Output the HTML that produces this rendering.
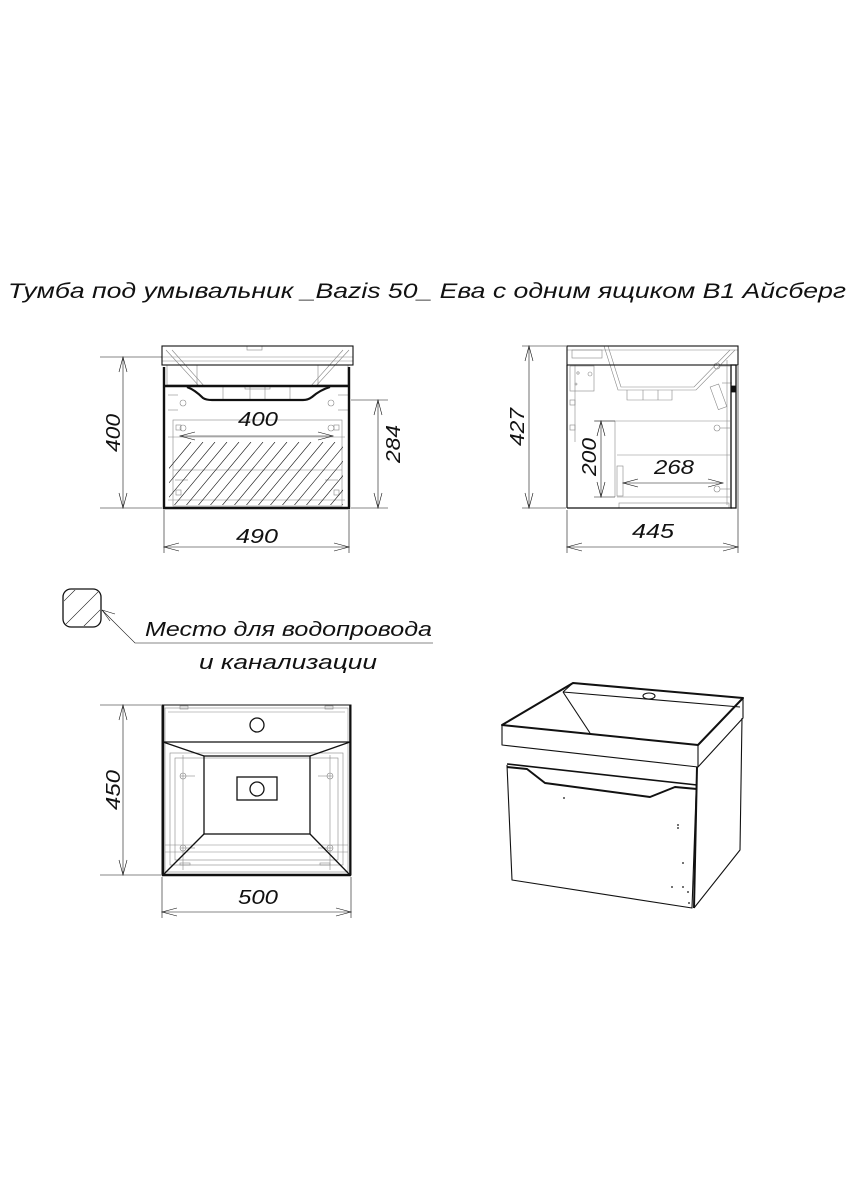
<!DOCTYPE html>
<html><head><meta charset="utf-8"><style>
html,body{margin:0;padding:0;background:#fff;}
svg{display:block;}
text{font-family:"Liberation Sans","DejaVu Sans",sans-serif;font-style:italic;fill:#111;}
</style></head><body>
<svg width="849" height="1200" viewBox="0 0 849 1200" xmlns="http://www.w3.org/2000/svg">
<defs>
<clipPath id="hc"><rect x="169" y="442" width="174" height="63"/></clipPath>
<clipPath id="sc"><rect x="64" y="590" width="36" height="36" rx="7"/></clipPath>
</defs>
<!-- Title -->
<text x="8" y="298" font-size="21" textLength="838" lengthAdjust="spacingAndGlyphs">Тумба под умывальник _Bazis 50_ Ева с одним ящиком В1 Айсберг</text>

<g fill="none" stroke="#111" stroke-width="0.8">
<!-- ============ FRONT VIEW ============ -->
<g stroke="#888" stroke-width="0.6">
<line x1="162" y1="357" x2="353" y2="357"/>
<line x1="162" y1="361" x2="353" y2="361"/>
<rect x="247" y="346" width="15" height="4"/>
<line x1="166" y1="350" x2="200" y2="387"/><line x1="172" y1="350" x2="205" y2="387"/>
<line x1="349" y1="350" x2="315" y2="387"/><line x1="343" y1="350" x2="310" y2="387"/>
<rect x="167" y="365" width="30" height="20"/><rect x="318" y="365" width="30" height="20"/>
<line x1="223" y1="387" x2="223" y2="400"/><line x1="250" y1="387" x2="250" y2="400"/><line x1="265" y1="387" x2="265" y2="400"/><line x1="290" y1="387" x2="290" y2="400"/>
<rect x="245" y="386" width="25" height="3"/>
<rect x="173" y="420" width="169" height="86"/>
<line x1="168" y1="437" x2="345" y2="437"/>
<line x1="173" y1="470" x2="342" y2="470"/>
<line x1="168" y1="500" x2="345" y2="500"/>
<circle cx="183" cy="403" r="3"/><circle cx="331" cy="403" r="3"/>
<circle cx="183" cy="428" r="3"/><circle cx="331" cy="428" r="3"/>
<line x1="168" y1="395" x2="178" y2="395"/><line x1="168" y1="410" x2="178" y2="410"/>
<line x1="338" y1="395" x2="348" y2="395"/><line x1="338" y1="410" x2="348" y2="410"/>
<line x1="175" y1="480" x2="188" y2="480"/><line x1="325" y1="480" x2="338" y2="480"/>
<rect x="176" y="490" width="5" height="5"/><rect x="334" y="490" width="5" height="5"/>
<rect x="176" y="425" width="5" height="5"/><rect x="334" y="425" width="5" height="5"/>
</g>
<rect x="162" y="346" width="191" height="19" stroke-width="1.1"/>
<g clip-path="url(#hc)" stroke-width="0.6">
<path d="M150 520 L215 442 M162 520 L227 442 M174 520 L239 442 M186 520 L251 442 M198 520 L263 442 M210 520 L275 442 M222 520 L287 442 M234 520 L299 442 M246 520 L311 442 M258 520 L323 442 M270 520 L335 442 M282 520 L347 442 M294 520 L359 442 M306 520 L371 442 M318 520 L383 442 M330 520 L395 442 M138 520 L203 442 M126 520 L191 442"/>
</g>
<g stroke-width="2.4">
<line x1="164" y1="367" x2="164" y2="509"/>
<line x1="349" y1="367" x2="349" y2="509"/>
<line x1="163" y1="508" x2="350" y2="508"/>
<line x1="163" y1="386" x2="350" y2="386"/>
<path d="M187 387 Q195 390 203 398 Q206 400 212 400 L303 400 Q308 400 312 397 Q320 390 330 387" stroke-width="2.2"/>
</g>
<!-- front dims -->
<g stroke-width="0.6">
<line x1="100" y1="357" x2="162" y2="357"/><line x1="100" y1="508" x2="162" y2="508"/>
<line x1="123" y1="357" x2="123" y2="508"/>
<path d="M119 372 L123 357 L127 372 M119 493 L123 508 L127 493"/>
<line x1="351" y1="400" x2="388" y2="400"/><line x1="351" y1="508" x2="388" y2="508"/>
<line x1="378" y1="400" x2="378" y2="508"/>
<path d="M374 415 L378 400 L382 415 M374 493 L378 508 L382 493"/>
<line x1="164" y1="510" x2="164" y2="553"/><line x1="349" y1="510" x2="349" y2="553"/>
<line x1="164" y1="547" x2="349" y2="547"/>
<path d="M179 543 L164 547 L179 551 M334 543 L349 547 L334 551"/>
<line x1="180" y1="436" x2="333" y2="436"/>
<path d="M195 432 L180 436 L195 440 M318 432 L333 436 L318 440"/>
</g>

<!-- ============ SIDE VIEW ============ -->
<g stroke="#888" stroke-width="0.6">
<line x1="567" y1="350" x2="738" y2="350"/>
<rect x="572" y="350" width="30" height="8"/>
<path d="M604 346 L618 390 L696 390 L735 350"/>
<path d="M608 346 L621 387 L694 387 L730 350"/>
<path d="M627 390 L627 400 L672 400 L672 390 M643 390 L643 400 M658 390 L658 400"/>
<rect x="570" y="366" width="24" height="25"/>
<circle cx="578" cy="373" r="1.2"/><circle cx="590" cy="374" r="2"/><circle cx="576" cy="384" r="1"/>
<rect x="570" y="400" width="5" height="5"/><rect x="570" y="425" width="5" height="5"/>
<line x1="575" y1="365" x2="575" y2="442"/>
<line x1="595" y1="421" x2="730" y2="421"/>
<line x1="615" y1="421" x2="615" y2="497"/>
<line x1="617" y1="455" x2="730" y2="455"/>
<line x1="617" y1="497" x2="730" y2="497"/>
<rect x="617" y="466" width="6" height="30"/>
<rect x="619" y="503" width="110" height="5"/>
<rect x="714" y="385" width="9" height="24" transform="rotate(-20 718 397)"/>
<circle cx="717" cy="366" r="3"/><circle cx="717" cy="428" r="3"/><circle cx="717" cy="489" r="3"/>
<line x1="720" y1="366" x2="730" y2="366"/><line x1="720" y1="428" x2="730" y2="428"/><line x1="720" y1="489" x2="730" y2="489"/>
<line x1="727" y1="360" x2="727" y2="505"/>
<line x1="722" y1="383" x2="732" y2="383"/>
</g>
<rect x="567" y="346" width="171" height="19" stroke-width="1.1"/>
<line x1="567" y1="365" x2="567" y2="508" stroke-width="1.2"/>
<line x1="567" y1="508" x2="732" y2="508" stroke-width="1.2"/>
<rect x="731" y="365" width="5" height="143" stroke-width="1.3"/>
<rect x="731" y="386" width="5" height="6" fill="#111"/>
<g stroke-width="0.6">
<line x1="522" y1="346" x2="566" y2="346"/><line x1="522" y1="508" x2="566" y2="508"/>
<line x1="529" y1="346" x2="529" y2="508"/>
<path d="M525 361 L529 346 L533 361 M525 493 L529 508 L533 493"/>
<line x1="594" y1="421" x2="615" y2="421"/><line x1="594" y1="497" x2="615" y2="497"/>
<line x1="601" y1="421" x2="601" y2="497"/>
<path d="M597 436 L601 421 L605 436 M597 482 L601 497 L605 482"/>
<line x1="623" y1="483" x2="723" y2="483"/>
<path d="M638 479 L623 483 L638 487 M708 479 L723 483 L708 487"/>
<line x1="567" y1="510" x2="567" y2="553"/><line x1="738" y1="366" x2="738" y2="553"/>
<line x1="567" y1="547" x2="738" y2="547"/>
<path d="M582 543 L567 547 L582 551 M723 543 L738 547 L723 551"/>
</g>

<!-- ============ SYMBOL ============ -->
<rect x="63" y="589" width="38" height="38" rx="8" stroke-width="1.3"/>
<g clip-path="url(#sc)" stroke-width="0.6">
<path d="M50 615 L90 575 M55 635 L105 585 M70 640 L115 595"/>
</g>
<g stroke-width="0.6">
<path d="M102 610 L135 643 L433 643"/>
<path d="M102 610 L115 614 M102 610 L110 621"/>
</g>

<!-- ============ TOP VIEW ============ -->
<g stroke="#888" stroke-width="0.6">
<rect x="165" y="708" width="183" height="164"/>
<rect x="170" y="753" width="173" height="112"/>
<rect x="175" y="758" width="163" height="102"/>
<line x1="165" y1="845" x2="348" y2="845"/><line x1="165" y1="852" x2="348" y2="852"/>
<line x1="183" y1="755" x2="183" y2="870"/><line x1="330" y1="755" x2="330" y2="870"/>
<line x1="180" y1="776" x2="195" y2="776"/><line x1="318" y1="776" x2="333" y2="776"/>
<line x1="180" y1="848" x2="195" y2="848"/><line x1="318" y1="848" x2="333" y2="848"/>
<circle cx="183" cy="776" r="3"/><circle cx="330" cy="776" r="3"/>
<circle cx="183" cy="848" r="3"/><circle cx="330" cy="848" r="3"/>
<rect x="180" y="706" width="8" height="3"/><rect x="325" y="706" width="8" height="3"/>
<rect x="180" y="863" width="10" height="2"/><rect x="320" y="863" width="10" height="2"/>
<line x1="168" y1="712" x2="345" y2="712"/>
</g>
<rect x="162" y="705" width="189" height="170" stroke-width="1"/>
<line x1="163" y1="705" x2="163" y2="875" stroke-width="2.4"/>
<line x1="350" y1="705" x2="350" y2="875" stroke-width="1.6"/>
<line x1="162" y1="875" x2="351" y2="875" stroke-width="2.4"/>
<g stroke-width="1.3">
<line x1="163" y1="742" x2="350" y2="742"/>
<rect x="204" y="756" width="106" height="78"/>
<line x1="163" y1="742" x2="204" y2="756"/><line x1="350" y1="742" x2="310" y2="756"/>
<line x1="163" y1="875" x2="204" y2="834"/><line x1="350" y1="875" x2="310" y2="834"/>
<circle cx="257" cy="725" r="7"/>
<rect x="237" y="777" width="40" height="23"/>
<circle cx="257" cy="789" r="7"/>
</g>
<g stroke-width="0.6">
<line x1="100" y1="705" x2="161" y2="705"/><line x1="100" y1="875" x2="161" y2="875"/>
<line x1="123" y1="705" x2="123" y2="875"/>
<path d="M119 720 L123 705 L127 720 M119 860 L123 875 L127 860"/>
<line x1="162" y1="877" x2="162" y2="918"/><line x1="351" y1="877" x2="351" y2="918"/>
<line x1="162" y1="912" x2="351" y2="912"/>
<path d="M177 908 L162 912 L177 916 M336 908 L351 912 L336 916"/>
</g>

<!-- ============ ISOMETRIC ============ -->
<g stroke-width="1.1" stroke-linejoin="round">
<path d="M573 683 L743 698 L698 745 L502 725 Z" stroke-width="2"/>
<path d="M502 725 L502 745 L698 767 L698 745"/>
<path d="M698 767 L743 718 L743 698"/>
<path d="M563 692 L740 707"/>
<path d="M563 692 L590 733"/>
<path d="M563 692 L573 683"/>
<ellipse cx="649" cy="696" rx="6" ry="3"/>
<path d="M507 765 L512 880 L692 908 L697 767"/>
<path d="M697 767 L694 908" stroke-width="2"/>
<path d="M694 908 L740 850 L742 718"/>
<path d="M507 764 L697 785" stroke-width="1.6"/>
<path d="M507 767 L527 769 L545 783 L650 797 L675 787 L697 789" stroke-width="2"/>
</g>
<g fill="#111" stroke="none">
<circle cx="564" cy="798" r="0.9"/><circle cx="678" cy="825" r="0.9"/><circle cx="678" cy="828" r="0.9"/>
<circle cx="683" cy="863" r="0.9"/><circle cx="683" cy="887" r="0.9"/><circle cx="672" cy="887" r="0.9"/>
<circle cx="688" cy="892" r="0.9"/><circle cx="689" cy="903" r="0.9"/>
</g>
</g>

<!-- Dimension texts -->
<g font-size="20">
<text x="0" y="0" transform="translate(120,452) rotate(-90)" textLength="38" lengthAdjust="spacingAndGlyphs">400</text>
<text x="0" y="0" transform="translate(400,463) rotate(-90)" textLength="38" lengthAdjust="spacingAndGlyphs">284</text>
<text x="236" y="543" textLength="42" lengthAdjust="spacingAndGlyphs">490</text>
<text x="238" y="426" textLength="40" lengthAdjust="spacingAndGlyphs">400</text>
<text x="0" y="0" transform="translate(524,446) rotate(-90)" textLength="38" lengthAdjust="spacingAndGlyphs">427</text>
<text x="0" y="0" transform="translate(596,476) rotate(-90)" textLength="38" lengthAdjust="spacingAndGlyphs">200</text>
<text x="654" y="474" textLength="40" lengthAdjust="spacingAndGlyphs">268</text>
<text x="632" y="538" textLength="42" lengthAdjust="spacingAndGlyphs">445</text>
<text x="0" y="0" transform="translate(120,810) rotate(-90)" textLength="40" lengthAdjust="spacingAndGlyphs">450</text>
<text x="238" y="904" textLength="40" lengthAdjust="spacingAndGlyphs">500</text>
</g>
<text x="145" y="636" font-size="20" textLength="287" lengthAdjust="spacingAndGlyphs">Место для водопровода</text>
<text x="199" y="669" font-size="20" textLength="178" lengthAdjust="spacingAndGlyphs">и канализации</text>
</svg>
</body></html>
